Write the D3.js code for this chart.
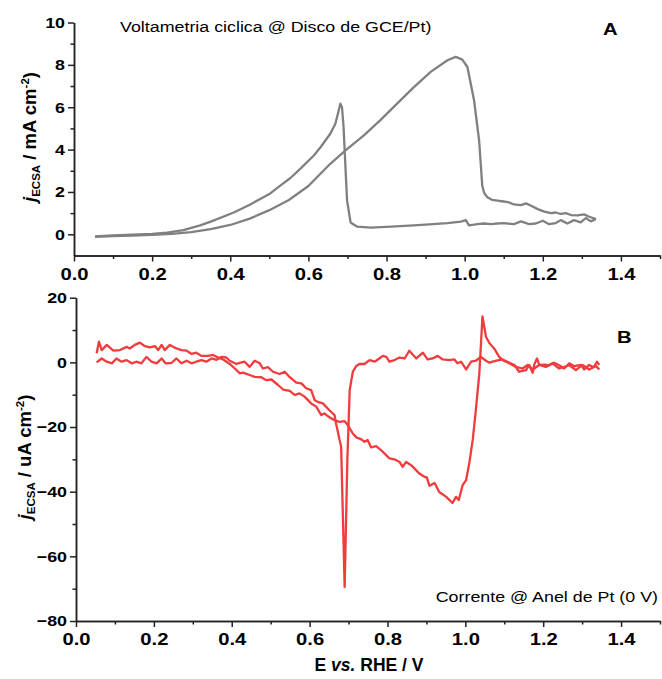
<!DOCTYPE html>
<html>
<head>
<meta charset="utf-8">
<script src="https://cdn.jsdelivr.net/npm/d3@7/dist/d3.min.js"></script>
<style>
  body { margin: 0; background: #fff; }
  svg { display: block; font-family: Arial, "Liberation Sans", sans-serif; }
</style>
</head>
<body>
<div id="chart"></div>
<script>
// panel A: cyclic voltammetry on the GCE/Pt disc (mA cm-2), [E, j]
var discForward = [[0.054,-0.12],[0.1,-0.09],[0.15,-0.06],[0.2,-0.03],[0.25,0.02],[0.3,0.1],[0.35,0.24],
  [0.4,0.44],[0.45,0.74],[0.5,1.14],[0.55,1.62],[0.6,2.28],[0.656,3.33],[0.695,3.96],[0.742,4.67],
  [0.785,5.4],[0.827,6.17],[0.87,6.95],[0.913,7.67],[0.956,8.22],[0.977,8.38],[0.994,8.25],[1.007,7.9],
  [1.024,6.33],[1.037,4.43],[1.045,2.3],[1.05,1.95],[1.058,1.75],[1.07,1.63],[1.084,1.59],[1.1,1.55],
  [1.113,1.51],[1.126,1.41],[1.144,1.38],[1.157,1.46],[1.17,1.35],[1.187,1.19],[1.204,1.07],[1.221,1.0],
  [1.233,1.03],[1.246,0.96],[1.259,1.0],[1.272,0.91],[1.289,0.89],[1.306,0.94],[1.319,0.83],[1.336,0.72]];
var discReverse = [[1.336,0.72],[1.323,0.61],[1.31,0.77],[1.297,0.56],[1.28,0.67],[1.263,0.51],[1.246,0.67],
  [1.233,0.53],[1.216,0.48],[1.2,0.64],[1.182,0.51],[1.165,0.48],[1.144,0.61],[1.126,0.48],[1.1,0.53],
  [1.084,0.51],[1.067,0.48],[1.05,0.51],[1.033,0.48],[1.011,0.42],[1.003,0.67],[0.99,0.6],[0.956,0.53],
  [0.9,0.46],[0.87,0.42],[0.8,0.35],[0.76,0.32],[0.725,0.36],[0.708,0.56],[0.699,1.59],[0.695,3.1],
  [0.69,5.06],[0.686,6.0],[0.682,6.17],[0.669,5.22],[0.656,4.75],[0.631,4.11],[0.614,3.72],[0.579,3.09],
  [0.554,2.66],[0.528,2.3],[0.5,1.9],[0.45,1.4],[0.409,1.03],[0.35,0.6],[0.323,0.42],[0.28,0.2],
  [0.238,0.08],[0.2,0.02],[0.15,-0.01],[0.1,-0.05],[0.054,-0.1]];

// panel B: Pt ring current at 0 V (uA cm-2), [E, j]
var ringForward = [[0.053,2.8],[0.059,6.4],[0.066,3.8],[0.079,5.4],[0.096,3.6],[0.113,3.8],[0.13,4.8],
  [0.138,4.3],[0.151,5.4],[0.164,6.1],[0.177,5.0],[0.19,4.6],[0.203,5.0],[0.211,3.8],[0.22,5.4],
  [0.228,3.8],[0.241,5.4],[0.258,4.3],[0.271,3.8],[0.284,3.6],[0.297,2.6],[0.309,3.0],[0.322,2.0],
  [0.339,2.0],[0.352,2.3],[0.365,1.5],[0.379,0.8],[0.395,-0.5],[0.408,-1.9],[0.421,-3.4],[0.429,-3.2],
  [0.446,-3.9],[0.459,-4.5],[0.476,-4.6],[0.489,-5.5],[0.502,-5.3],[0.519,-7.0],[0.532,-8.4],[0.549,-8.8],
  [0.562,-10.1],[0.574,-9.6],[0.587,-10.6],[0.604,-12.7],[0.617,-13.7],[0.63,-16.3],[0.638,-15.8],
  [0.651,-17.0],[0.664,-17.9],[0.677,-18.4],[0.69,-18.2],[0.698,-19.4],[0.711,-22],[0.72,-23.2],
  [0.733,-23.8],[0.741,-24.6],[0.749,-24.0],[0.758,-26.3],[0.771,-25.9],[0.784,-27.2],[0.805,-29.7],
  [0.818,-30.0],[0.831,-30.8],[0.839,-32.3],[0.848,-30.8],[0.861,-31.8],[0.882,-34.4],[0.895,-35.4],
  [0.901,-35.6],[0.908,-38.2],[0.921,-37.3],[0.933,-40.1],[0.951,-41.6],[0.967,-43.5],[0.976,-41.6],
  [0.983,-42.6],[0.993,-38],[1.002,-36.4],[1.01,-31.3],[1.019,-24],[1.027,-14.8],[1.036,-3.4],
  [1.044,14.2],[1.053,7.9],[1.062,5.9],[1.074,4.3],[1.087,1.7],[1.096,0.7],[1.113,-0.3],[1.13,-1.4],
  [1.147,-1.9],[1.16,-0.8],[1.173,-2.2],[1.19,-0.8],[1.207,-1.4],[1.224,-0.3],[1.241,-1.9],[1.267,-0.9],
  [1.284,-2.4],[1.301,-0.8],[1.318,-2.2],[1.335,-1.1],[1.344,-2.2]];
var ringReverse = [[1.344,-0.8],[1.338,0.2],[1.33,-1.5],[1.318,-0.8],[1.305,-2.2],[1.297,-0.8],[1.28,-1.2],
  [1.267,-0.3],[1.254,-1.9],[1.241,-0.9],[1.228,-0.1],[1.215,-0.9],[1.203,-0.7],[1.19,-0.8],[1.184,1.2],
  [1.177,-0.7],[1.173,-3.2],[1.164,-0.8],[1.156,-2.4],[1.138,-2.9],[1.126,-0.8],[1.113,-0.1],[1.096,0.9],
  [1.083,0.6],[1.07,0.2],[1.062,-0.1],[1.053,0.5],[1.04,1.7],[1.027,0.5],[1.015,0.2],[1.002,-2.2],
  [0.989,0.2],[0.98,-0.3],[0.972,0.9],[0.959,0.7],[0.942,0.9],[0.929,2.0],[0.916,1.2],[0.903,0.9],
  [0.891,3.0],[0.874,1.2],[0.856,3.6],[0.844,1.2],[0.831,1.5],[0.818,0.7],[0.805,0.2],[0.797,1.7],
  [0.788,2.0],[0.779,1.2],[0.767,0.2],[0.754,0.7],[0.741,-0.5],[0.728,-0.5],[0.72,-1.1],[0.711,-2.9],
  [0.703,-8.6],[0.697,-30],[0.69,-69.5],[0.681,-26],[0.677,-24],[0.668,-18.9],[0.664,-16.3],[0.651,-14.8],
  [0.634,-12.7],[0.621,-12.2],[0.613,-11.7],[0.604,-8.6],[0.591,-8.0],[0.579,-6.5],[0.566,-6.3],
  [0.549,-4.6],[0.536,-2.9],[0.523,-3.6],[0.506,-2.9],[0.493,-1.5],[0.48,-1.9],[0.472,-0.3],[0.459,0.5],
  [0.446,-1.4],[0.433,0.2],[0.412,-0.5],[0.395,0.5],[0.386,1.5],[0.374,1.7],[0.361,0.8],[0.348,1.2],
  [0.335,0.2],[0.322,0.7],[0.309,0.2],[0.297,-0.3],[0.284,0.5],[0.271,-0.3],[0.258,1.2],[0.245,-0.2],
  [0.23,-0.3],[0.22,1.2],[0.207,-0.3],[0.194,0.2],[0.181,1.7],[0.168,-0.3],[0.155,0.2],[0.143,-0.3],
  [0.13,0.7],[0.117,0.2],[0.104,1.2],[0.092,-0.3],[0.079,0.2],[0.066,1.2],[0.053,0.0]];

var xTicks = [0, 0.2, 0.4, 0.6, 0.8, 1.0, 1.2, 1.4];
var xMinor = [0.1, 0.3, 0.5, 0.7, 0.9, 1.1, 1.3, 1.5];
var yTicksA = [0, 2, 4, 6, 8, 10];
var yMinorA = [1, 3, 5, 7, 9];
var yTicksB = [-80, -60, -40, -20, 0, 20];
var yMinorB = [-70, -50, -30, -10, 10];

var W = 662, H = 679;
var SX = 1.19; // the source text is a little wider than it is tall
var svg = d3.select("#chart").append("svg").attr("width", W).attr("height", H);

function panel(opt){
  var x = d3.scaleLinear().domain([0, 1.5]).range([opt.left, 660]);
  var y = d3.scaleLinear().domain(opt.ydom).range([opt.bottom, opt.top]);
  var g = svg.append("g");

  // minor ticks first, then the labelled axis on top
  g.append("g").attr("transform", "translate(0," + opt.bottom + ")")
    .call(d3.axisBottom(x).tickValues(xMinor).tickSize(3.5).tickSizeOuter(0).tickFormat(""));
  g.append("g").attr("transform", "translate(0," + opt.bottom + ")")
    .call(d3.axisBottom(x).tickValues(xTicks).tickSize(6).tickSizeOuter(0).tickPadding(6)
      .tickFormat(d3.format(".1f")))
    .selectAll("text").attr("font-size", 17).attr("font-weight", "bold").attr("fill", "#000")
    .attr("transform", "scale(" + SX + ",1)");
  g.append("g").attr("transform", "translate(" + opt.left + ",0)")
    .call(d3.axisLeft(y).tickValues(opt.minor).tickSize(3.5).tickSizeOuter(0).tickFormat(""));
  g.append("g").attr("transform", "translate(" + opt.left + ",0)")
    .call(d3.axisLeft(y).tickValues(opt.ticks).tickSize(6).tickSizeOuter(0)
      .tickFormat(function(d){ return d < 0 ? "\u2212" + Math.abs(d) : d; }))
    .selectAll("text").attr("font-size", 15).attr("font-weight", "bold").attr("fill", "#000")
    .attr("x", -9 / SX).attr("transform", "scale(" + SX + ",1)");
  g.selectAll(".domain, .tick line").attr("stroke", "#222").attr("stroke-width", 1.5);

  var line = d3.line().x(function(d){ return x(d[0]); }).y(function(d){ return y(d[1]); });
  opt.series.forEach(function(s){
    g.append("path").datum(s)
      .attr("fill", "none")
      .attr("stroke", opt.color)
      .attr("stroke-width", 2.3)
      .attr("stroke-linejoin", "round")
      .attr("d", line);
  });

  // rotated y title: j_ECSA / .. cm^-2)
  var t = g.append("text")
    .attr("transform", "translate(" + opt.titleX + "," + opt.titleY + ") rotate(-90)")
    .attr("text-anchor", "middle").attr("font-size", 18.5).attr("font-weight", "bold").attr("fill", "#000");
  t.append("tspan").attr("font-style", "italic").text("j");
  t.append("tspan").attr("font-size", 11.5).attr("dy", 4).text("ECSA");
  t.append("tspan").attr("dy", -4).text(" / " + opt.unit + " cm");
  t.append("tspan").attr("font-size", 11.5).attr("dy", -7).text("-2");
  t.append("tspan").attr("dy", 7).text(")");
  return g;
}

panel({left: 74, top: 22.5, bottom: 255.5, ydom: [-1, 10], ticks: yTicksA, minor: yMinorA,
  series: [discForward, discReverse], color: "#808080", unit: "mA", titleX: 36, titleY: 137});
panel({left: 76, top: 297.7, bottom: 621, ydom: [-80, 20], ticks: yTicksB, minor: yMinorB,
  series: [ringForward, ringReverse], color: "#f03c3c", unit: "uA", titleX: 31, titleY: 457});

// annotations, stretched like the source text
function note(x, y, txt, size, bold, anchor){
  svg.append("text").attr("transform", "translate(" + x + "," + y + ") scale(" + SX + ",1)")
    .attr("font-size", size).attr("font-weight", bold ? "bold" : "normal")
    .attr("text-anchor", anchor || "start").attr("fill", "#000").text(txt);
}
note(120, 32, "Voltametria ciclica @ Disco de GCE/Pt)", 15, false);
note(603, 35, "A", 17, true);
note(617, 343, "B", 17, true);
note(658, 602, "Corrente @ Anel de Pt (0 V)", 15, false, "end");

// x title
var xt = svg.append("text").attr("x", 369).attr("y", 671).attr("text-anchor", "middle")
  .attr("font-size", 17.5).attr("font-weight", "bold").attr("fill", "#000");
xt.append("tspan").text("E ");
xt.append("tspan").attr("font-style", "italic").text("vs.");
xt.append("tspan").text(" RHE / V");
</script>
</body>
</html>
